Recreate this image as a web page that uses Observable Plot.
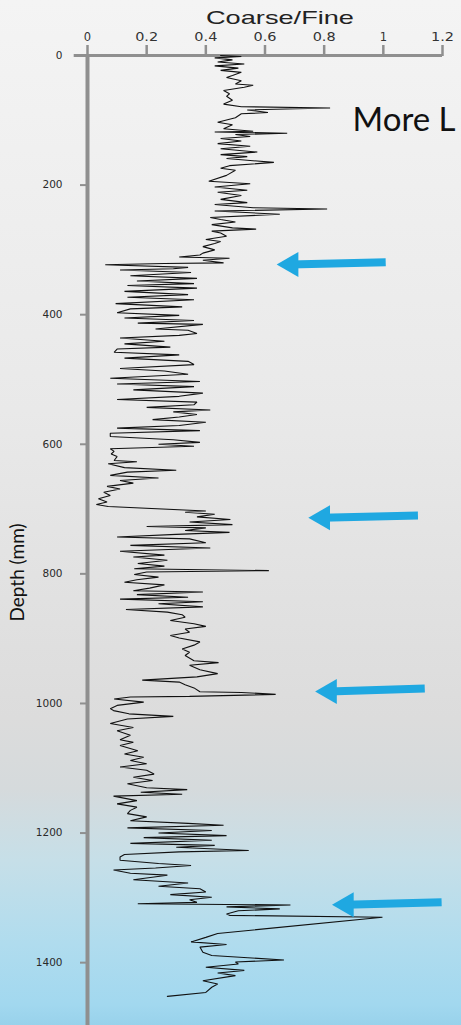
<!DOCTYPE html>
<html>
<head>
<meta charset="utf-8">
<script src="https://cdn.jsdelivr.net/npm/d3@7"></script>
<script src="https://cdn.jsdelivr.net/npm/@observablehq/plot@0.6"></script>
<style>
  html, body { margin: 0; padding: 0; }
  body {
    width: 461px; height: 1025px; overflow: hidden;
    background: linear-gradient(to bottom, #f4f4f4 0%, #e9e9e9 40%, #dcdcdc 70%, #d5dadc 77%, #c6dfe8 84%, #b0dcee 92%, #a2d8ef 98%, #98d2eb 100%);
  }
  #chart svg { display: block; }
</style>
</head>
<body>
<div id="chart"></div>
<script>
// Depth (mm) and Coarse/Fine ratio
const depth = [0,1.5,3.6,6.7,10,13,16,19.5,23,26,31,34,39,44,46,49,54,59,63,69,75,79,81,84,88,90,96,103,107,113,117,118,120,122,125,128,132,136,140,144,149,153,156,159,165,170,174,177,185,194,198,203,208,211,216,222,227,230,235,237,240,245,250,253,257,261,266,268,271,274,279,284,287,290,295,300,305,308,311,313,316,320,321,323,327,329,331,335,340,344,348,352,355,359,364,369,373,377,383,388,391,397,401,405,409,413,415,422,424,429,432,436,441,445,450,453,458,462,467,472,477,483,487,492,498,503,507,511,516,521,526,531,535,539,543,547,550,554,558,562,566,571,575,579,583,588,593,597,600,603,607,611,615,619,625,627,630,636,640,643,648,652,656,660,665,669,674,679,684,689,693,696,703,705,708,712,716,720,724,727,729,733,736,739,743,746,752,756,760,765,771,774,779,784,788,792,795,797,801,805,809,813,817,822,826,828,832,836,839,843,846,851,855,859,863,867,872,877,881,885,890,895,899,905,910,916,921,926,934,937,941,948,954,959,964,967,971,976,982,983,986,989,990,993,998,1003,1008,1011,1016,1020,1024,1031,1037,1042,1049,1056,1060,1065,1073,1078,1083,1088,1093,1098,1103,1109,1114,1119,1124,1130,1133,1137,1140,1143,1150,1155,1160,1165,1170,1175,1181,1185,1188,1192,1196,1200,1204,1207,1211,1216,1219,1222,1227,1229,1233,1237,1242,1247,1250,1254,1257,1262,1265,1272,1277,1282,1286,1291,1295,1299,1303,1307,1309,1311,1314,1317,1320,1325,1327,1330,1355,1361,1368,1372,1376,1384,1389,1396,1399,1402,1407,1412,1416,1420,1428,1433,1438,1446,1452];
const ratio = [0.45,0.52,0.43,0.49,0.44,0.53,0.43,0.51,0.45,0.52,0.49,0.47,0.52,0.50,0.56,0.53,0.46,0.48,0.47,0.49,0.46,0.52,0.82,0.54,0.61,0.52,0.50,0.44,0.49,0.46,0.56,0.43,0.675,0.50,0.55,0.45,0.52,0.44,0.55,0.45,0.574,0.45,0.54,0.47,0.63,0.48,0.45,0.50,0.47,0.41,0.55,0.43,0.54,0.44,0.52,0.45,0.54,0.43,0.56,0.81,0.43,0.65,0.415,0.45,0.50,0.42,0.49,0.57,0.42,0.45,0.47,0.40,0.45,0.43,0.39,0.43,0.39,0.38,0.31,0.48,0.39,0.46,0.26,0.06,0.34,0.29,0.11,0.35,0.145,0.37,0.167,0.36,0.135,0.37,0.125,0.34,0.135,0.36,0.095,0.32,0.145,0.10,0.31,0.125,0.36,0.17,0.39,0.23,0.34,0.37,0.31,0.11,0.26,0.125,0.28,0.10,0.09,0.31,0.125,0.34,0.36,0.11,0.26,0.34,0.077,0.38,0.10,0.36,0.155,0.39,0.31,0.10,0.37,0.36,0.20,0.415,0.29,0.37,0.31,0.22,0.40,0.31,0.10,0.38,0.077,0.077,0.29,0.38,0.24,0.36,0.077,0.09,0.08,0.10,0.09,0.167,0.07,0.125,0.30,0.135,0.077,0.24,0.11,0.155,0.066,0.11,0.055,0.077,0.037,0.066,0.03,0.07,0.40,0.33,0.43,0.37,0.483,0.345,0.49,0.20,0.40,0.33,0.48,0.30,0.10,0.345,0.40,0.145,0.415,0.11,0.26,0.155,0.27,0.17,0.26,0.158,0.613,0.20,0.158,0.24,0.167,0.125,0.26,0.21,0.155,0.39,0.167,0.34,0.11,0.39,0.24,0.39,0.13,0.27,0.32,0.33,0.28,0.36,0.40,0.33,0.345,0.28,0.31,0.38,0.36,0.32,0.345,0.33,0.36,0.443,0.345,0.38,0.44,0.37,0.185,0.31,0.33,0.36,0.38,0.52,0.636,0.345,0.145,0.09,0.19,0.10,0.077,0.088,0.14,0.29,0.135,0.077,0.155,0.10,0.145,0.11,0.155,0.11,0.17,0.125,0.19,0.145,0.20,0.11,0.20,0.225,0.155,0.22,0.135,0.20,0.337,0.18,0.32,0.088,0.167,0.10,0.167,0.145,0.135,0.20,0.145,0.34,0.46,0.135,0.42,0.24,0.47,0.19,0.42,0.145,0.43,0.30,0.545,0.31,0.125,0.11,0.11,0.24,0.35,0.23,0.088,0.145,0.27,0.155,0.34,0.24,0.38,0.40,0.28,0.42,0.345,0.37,0.17,0.686,0.47,0.65,0.51,0.47,0.48,0.997,0.44,0.40,0.35,0.47,0.38,0.39,0.42,0.664,0.50,0.51,0.40,0.53,0.44,0.50,0.39,0.44,0.42,0.40,0.27];

// Tick values
const xTicks = [0, 0.2, 0.4, 0.6, 0.8, 1, 1.2];
const yTicks = [0, 200, 400, 600, 800, 1000, 1200, 1400];

// Arrow annotations (tail / tip)
const arrowDepthTail = [319, 710, 977, 1306.6];
const arrowDepthTip  = [322.5, 713.4, 981.5, 1310.6];
const arrowXTail = [1.008, 1.117, 1.140, 1.197];
const arrowXTip  = [0.641, 0.748, 0.771, 0.828];

// Text annotation
const noteText = ["More L"];
const noteX = [0.896];
const noteDepth = [100];

const series = depth.map((d, i) => ({depth: d, ratio: ratio[i]}));
const arrows = arrowDepthTail.map((d, i) => ({
  d1: d, d2: arrowDepthTip[i], x1: arrowXTail[i], x2: arrowXTip[i],
  xs: arrowXTip[i] + 0.045
}));
const notes = noteText.map((t, i) => ({t, x: noteX[i], d: noteDepth[i]}));

const axisGray = "#8f8f8f";
const blue = "#1fa8e1";

const svg = Plot.plot({
  width: 461,
  height: 1025,
  marginLeft: 87,
  marginRight: 19,
  marginTop: 55,
  marginBottom: 0,
  style: {background: "transparent", fontFamily: "'DejaVu Sans', Verdana, sans-serif"},
  x: {domain: [0, 1.2]},
  y: {domain: [0, 1497], reverse: true},
  marks: [
    Plot.axisX({anchor: "top", ticks: xTicks, tickFormat: d => String(d), tickSize: 11, tickPadding: 4,
      stroke: axisGray, strokeWidth: 2.5, fill: "#333", fontSize: 11.5, label: null}),
    Plot.axisY({anchor: "left", ticks: yTicks, tickFormat: d => String(d), tickSize: 7, tickPadding: 18,
      stroke: axisGray, strokeWidth: 2, fill: "#2a2a2a", fontSize: 10.5, label: null}),
    Plot.ruleY([0], {x1: -0.045, x2: 1.2, stroke: axisGray, strokeWidth: 3}),
    Plot.ruleX([0], {stroke: axisGray, strokeWidth: 4}),
    Plot.line(series, {x: "ratio", y: "depth", stroke: "#111", strokeWidth: 1.1, strokeLinejoin: "miter"}),
    Plot.link(arrows, {x1: "x1", y1: "d1", x2: "xs", y2: "d2", stroke: blue, strokeWidth: 8, strokeLinecap: "butt"}),
    Plot.dot(arrows, {x: "x2", y: "d2", symbol: "triangle", r: 9.3, rotate: -90, fill: blue, stroke: "none", dx: 14}),
    Plot.text(notes, {x: "x", y: "d", text: "t", textAnchor: "start", lineAnchor: "middle", fontSize: 33, fill: "#111",
      fontFamily: "Lato, 'Open Sans', sans-serif"}),
    Plot.text(["Coarse/Fine"], {frameAnchor: "top", lineAnchor: "middle", textAnchor: "middle", dx: 15, dy: -38, fontSize: 19, fill: "#222",
      fontFamily: "'Liberation Sans', Arial, sans-serif"}),
    Plot.text(["Depth (mm)"], {frameAnchor: "left", textAnchor: "middle", lineAnchor: "middle", dx: -70, dy: 32, rotate: -90, fontSize: 19, fill: "#111",
      fontFamily: "Lato, 'Open Sans', sans-serif"})
  ]
});

svg.querySelectorAll("text").forEach(t => {
  const s = t.textContent;
  if (s === "Coarse/Fine") {
    t.setAttribute("textLength", "148");
    t.setAttribute("lengthAdjust", "spacingAndGlyphs");
  } else if (/^\d\.\d$/.test(s)) {
    t.setAttribute("textLength", "23");
    t.setAttribute("lengthAdjust", "spacingAndGlyphs");
  }
});

document.getElementById("chart").appendChild(svg);
</script>
</body>
</html>
